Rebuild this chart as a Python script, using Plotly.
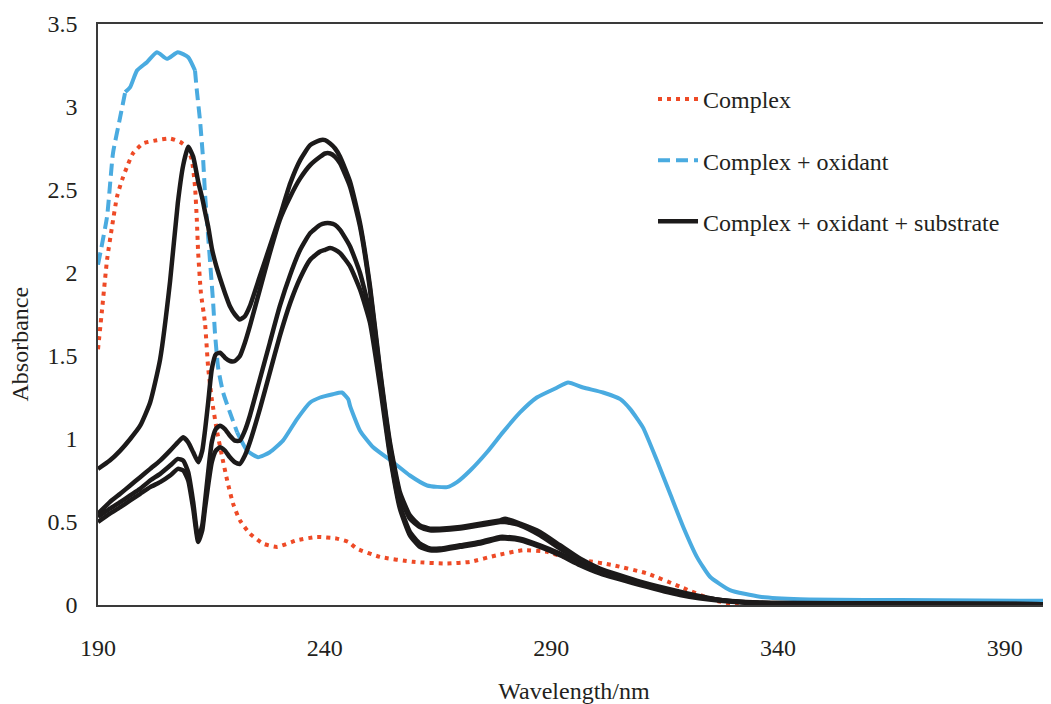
import plotly.graph_objects as go

# ---------------- data ----------------
series_names = ["Complex", "Complex + oxidant", "Complex + oxidant + substrate"]
x_title = "Wavelength/nm"
y_title = "Absorbance"

wl_complex = [190.0, 190.9, 192.0, 193.1, 194.2, 195.3, 196.4, 197.7, 199.9, 203.0,
              205.9, 208.1, 209.6, 210.7, 211.4, 211.8, 212.1, 212.7, 213.6, 214.3,
              215.1, 216.3, 217.4, 218.5, 219.8, 221.3, 223.5, 226.4, 229.5, 233.9,
              238.3, 242.7, 245.2, 247.1, 252.2, 259.5, 267.0, 272.1, 278.0, 283.8,
              289.1, 292.6, 297.0, 303.6, 311.1, 318.4, 325.7, 329.4, 344.9, 370.0, 400.0]
abs_complex = [1.54, 1.78, 2.08, 2.28, 2.46, 2.56, 2.64, 2.72, 2.78, 2.80,
               2.81, 2.79, 2.76, 2.68, 2.52, 2.32, 2.12, 1.88, 1.70, 1.43,
               1.24, 1.04, 0.89, 0.75, 0.61, 0.51, 0.43, 0.37, 0.35, 0.39,
               0.41, 0.40, 0.38, 0.34, 0.29, 0.26, 0.25, 0.26, 0.30, 0.33,
               0.32, 0.29, 0.27, 0.24, 0.19, 0.11, 0.03, 0.01, 0.005, 0.003, 0.002]

wl_oxidant = [190.0, 192.0, 193.3, 194.9, 196.0, 197.1, 198.6, 200.8, 203.0, 205.2,
              207.6, 209.9, 211.4, 211.8, 212.5, 213.2, 213.6, 214.3, 215.4, 215.8,
              216.5, 217.6, 219.1, 220.7, 222.9, 225.3, 227.9, 230.8, 233.9, 236.8,
              239.0, 241.8, 243.8, 245.2, 245.6, 247.8, 250.7, 255.1, 258.8, 262.6,
              267.0, 269.2, 272.1, 275.8, 279.3, 283.1, 286.8, 291.3, 293.7, 297.0,
              301.4, 305.2, 307.4, 310.2, 313.3, 316.2, 319.1, 322.1, 325.0, 329.4,
              336.0, 344.9, 366.9, 400.0]
abs_oxidant = [2.05, 2.34, 2.72, 2.94, 3.09, 3.12, 3.22, 3.27, 3.33, 3.29,
               3.33, 3.30, 3.22, 3.10, 2.92, 2.68, 2.48, 2.22, 1.82, 1.64,
               1.43, 1.28, 1.16, 1.04, 0.93, 0.89, 0.92, 0.99, 1.12, 1.22,
               1.25, 1.27, 1.28, 1.24, 1.20, 1.05, 0.95, 0.86, 0.78, 0.72,
               0.71, 0.74, 0.81, 0.92, 1.04, 1.16, 1.25, 1.31, 1.34, 1.31,
               1.28, 1.24, 1.18, 1.07, 0.87, 0.67, 0.47, 0.29, 0.17, 0.09,
               0.05, 0.035, 0.03, 0.025]

wl_substrate = [190.0, 192.6, 194.9, 197.1, 199.3, 201.5, 203.7, 205.9, 207.6, 208.8,
                209.9, 211.0, 212.1, 213.0, 213.6, 214.3, 215.1, 216.0, 216.9, 218.0,
                219.1, 220.2, 221.3, 222.4, 223.5, 225.7, 227.9, 230.1, 232.4, 234.6,
                236.8, 239.0, 240.1, 241.2, 242.3, 243.4, 245.6, 247.8, 250.0, 252.2,
                254.4, 256.6, 258.8, 261.0, 263.2, 265.4, 269.9, 274.3, 278.7, 279.8,
                283.1, 287.5, 291.9, 296.3, 300.7, 309.6, 318.4, 327.2, 336.0, 355.9, 400.0]
abs_substrate_1 = [0.82, 0.87, 0.93, 1.00, 1.08, 1.22, 1.48, 1.95, 2.42, 2.65,
                   2.76, 2.70, 2.55, 2.45, 2.37, 2.28, 2.15, 2.05, 1.97, 1.88,
                   1.80, 1.75, 1.72, 1.74, 1.80, 1.98, 2.16, 2.34, 2.54, 2.68,
                   2.77, 2.80, 2.80, 2.78, 2.75, 2.70, 2.55, 2.30, 1.92, 1.42,
                   0.98, 0.68, 0.54, 0.48, 0.46, 0.46, 0.47, 0.49, 0.51, 0.52,
                   0.49, 0.44, 0.36, 0.28, 0.22, 0.14, 0.08, 0.03, 0.015, 0.01, 0.005]
abs_substrate_2 = [0.55, 0.62, 0.67, 0.72, 0.77, 0.82, 0.87, 0.93, 0.98, 1.01,
                   0.98, 0.92, 0.86, 0.93, 1.05, 1.22, 1.42, 1.51, 1.52, 1.49,
                   1.47, 1.47, 1.50, 1.58, 1.68, 1.90, 2.12, 2.32, 2.46, 2.57,
                   2.65, 2.70, 2.72, 2.72, 2.70, 2.66, 2.52, 2.28, 1.90, 1.40,
                   0.96, 0.66, 0.52, 0.47, 0.45, 0.45, 0.46, 0.48, 0.50, 0.50,
                   0.48, 0.42, 0.34, 0.27, 0.21, 0.13, 0.07, 0.03, 0.012, 0.008, 0.005]
abs_substrate_3 = [0.53, 0.58, 0.62, 0.66, 0.70, 0.75, 0.79, 0.84, 0.88, 0.87,
                   0.80, 0.62, 0.40, 0.48, 0.62, 0.80, 0.98, 1.06, 1.08, 1.06,
                   1.02, 0.99, 0.99, 1.05, 1.14, 1.36, 1.58, 1.80, 1.99, 2.14,
                   2.24, 2.29, 2.30, 2.30, 2.29, 2.26, 2.16, 2.00, 1.76, 1.36,
                   0.92, 0.60, 0.44, 0.37, 0.34, 0.34, 0.36, 0.38, 0.41, 0.41,
                   0.40, 0.36, 0.31, 0.25, 0.20, 0.13, 0.07, 0.03, 0.012, 0.008, 0.005]
abs_substrate_4 = [0.50, 0.55, 0.59, 0.63, 0.67, 0.71, 0.74, 0.78, 0.82, 0.81,
                   0.75, 0.58, 0.38, 0.45, 0.58, 0.72, 0.86, 0.93, 0.95, 0.93,
                   0.89, 0.86, 0.85, 0.90, 0.98, 1.18, 1.40, 1.62, 1.82, 1.97,
                   2.08, 2.13, 2.14, 2.15, 2.14, 2.12, 2.04, 1.90, 1.70, 1.32,
                   0.90, 0.58, 0.42, 0.35, 0.33, 0.33, 0.35, 0.37, 0.40, 0.40,
                   0.39, 0.35, 0.30, 0.24, 0.19, 0.12, 0.06, 0.025, 0.01, 0.007, 0.004]

x_tick_vals = [190, 240, 290, 340, 390]
y_tick_vals = [0, 0.5, 1, 1.5, 2, 2.5, 3, 3.5]

# ---------------- styles ----------------
RED = "#EE4A26"
BLUE = "#4AABE0"
BLACK = "#1C1A1A"
FONT = "Liberation Serif"
TXT = "#231F20"
FS = 24

fig = go.Figure()

# Complex (dotted red)
fig.add_trace(go.Scatter(
    x=wl_complex, y=abs_complex, mode="lines", name=series_names[0],
    legendgroup="g1", line=dict(color=RED, width=4, dash="4px,5px", shape="spline", smoothing=0.5)))

# Complex + oxidant: dashed on steep parts, solid where dense
segments = [(0, 5, "12px,6px", True), (4, 13, "solid", False),
            (12, 24, "12px,6px", False), (23, len(wl_oxidant), "solid", False)]
for a, b, dash, show in segments:
    fig.add_trace(go.Scatter(
        x=wl_oxidant[a:b], y=abs_oxidant[a:b], mode="lines", name=series_names[1],
        legendgroup="g2", showlegend=show,
        line=dict(color=BLUE, width=4, dash=dash, shape="spline", smoothing=0.5)))

# Complex + oxidant + substrate (black, several runs)
for i, ys in enumerate([abs_substrate_1, abs_substrate_2, abs_substrate_3, abs_substrate_4]):
    fig.add_trace(go.Scatter(
        x=wl_substrate, y=ys, mode="lines", name=series_names[2],
        legendgroup="g3", showlegend=(i == 0),
        line=dict(color=BLACK, width=4.5, shape="spline", smoothing=0.5)))

axis_common = dict(showline=True, linecolor="#3a3a3a", linewidth=1.5, mirror=True,
                   showgrid=False, zeroline=False, ticks="", automargin=False,
                   tickfont=dict(family=FONT, size=FS, color=TXT))

# the page body adds an 8px offset, so the figure is sized to fit the window
fig.update_layout(
    width=1043, height=696,
    margin=dict(l=90, r=1, t=16, b=99),
    paper_bgcolor="white", plot_bgcolor="white",
    font=dict(family=FONT, size=FS, color=TXT),
    xaxis=dict(range=[190, 400], tickvals=x_tick_vals, ticklabelstandoff=20,
               title=dict(text=x_title, font=dict(family=FONT, size=FS, color=TXT), standoff=24),
               **axis_common),
    yaxis=dict(range=[0, 3.5], tickvals=y_tick_vals, ticklabelstandoff=14,
               **axis_common),
    legend=dict(x=0.583, y=0.909, xanchor="left", yanchor="top",
                bgcolor="rgba(0,0,0,0)", font=dict(family=FONT, size=FS, color=TXT),
                tracegroupgap=27, itemwidth=40),
    showlegend=True,
    annotations=[dict(text=y_title, textangle=-90, xref="paper", yref="paper",
                      x=-0.082, y=0.45, xanchor="center", yanchor="middle",
                      showarrow=False, font=dict(family=FONT, size=FS, color=TXT))],
)

fig.write_html("out.html")
